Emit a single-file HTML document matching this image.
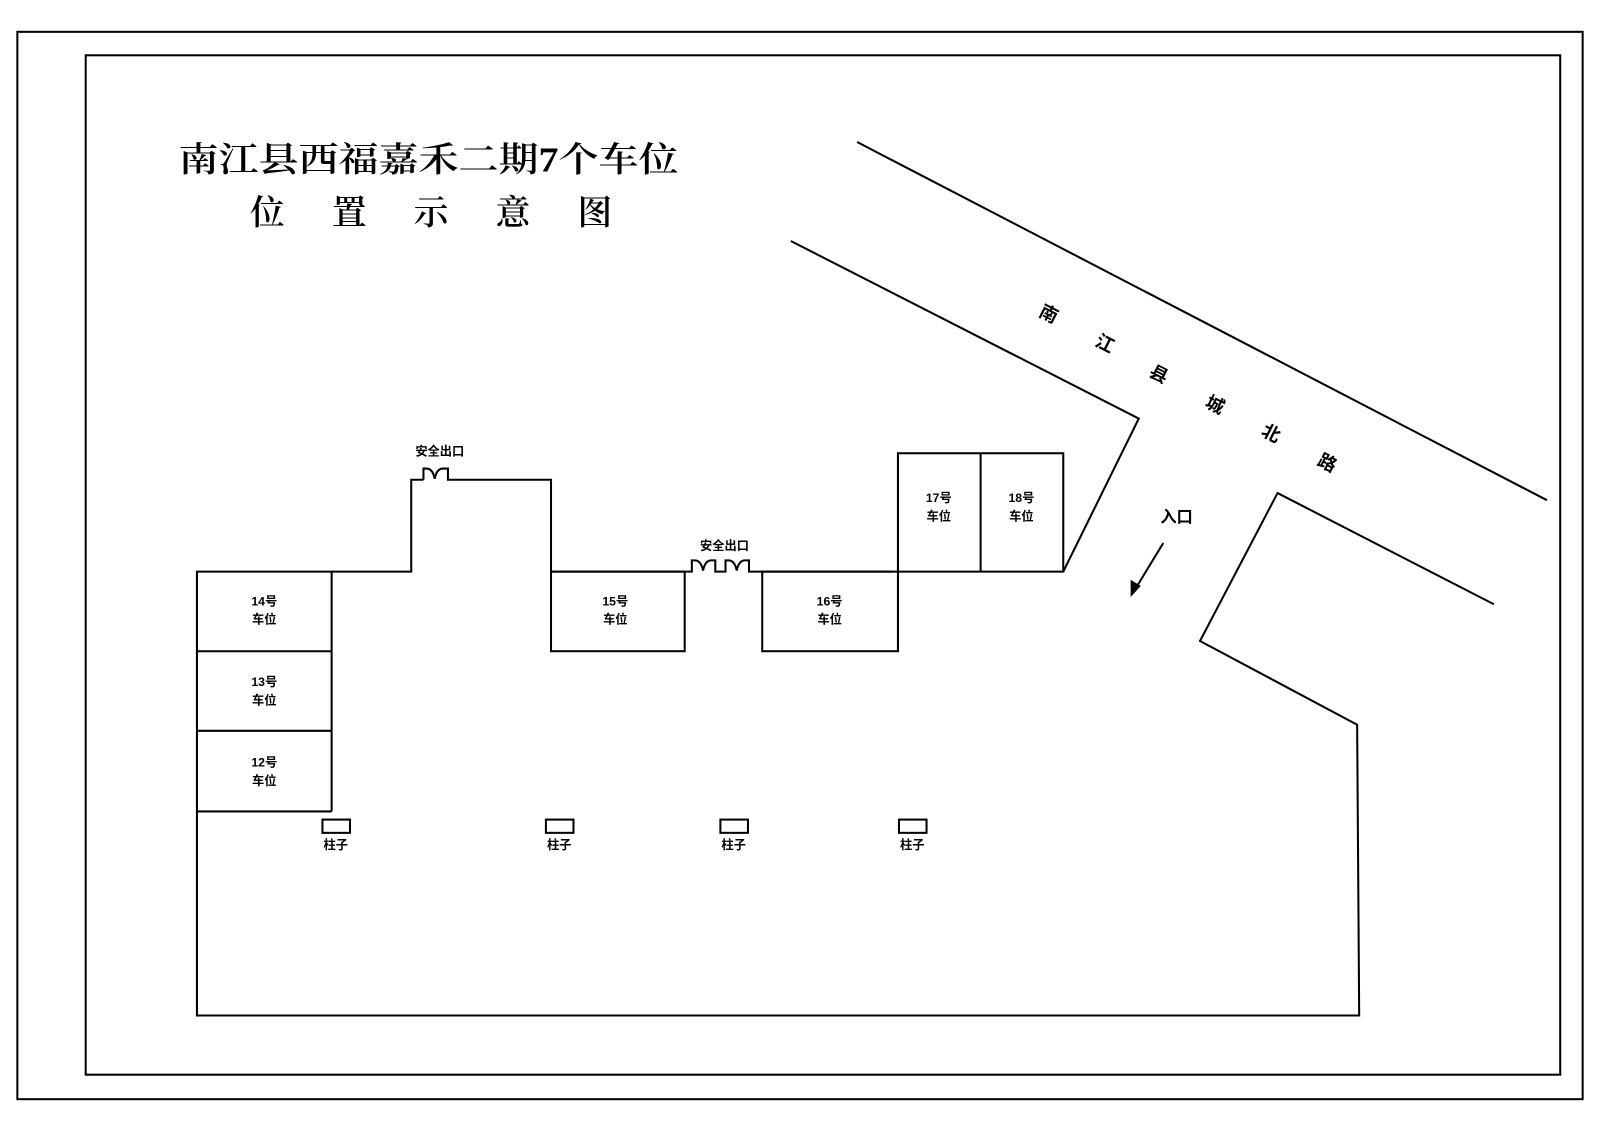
<!DOCTYPE html>
<html><head><meta charset="utf-8"><style>
html,body{margin:0;padding:0;background:#fff;}
svg{display:block}
text{font-family:"Liberation Sans","Noto Sans CJK SC",sans-serif;fill:#000}
.t{font-family:"Liberation Serif","Noto Serif CJK SC",serif;font-weight:600}
.s{font-size:12px;font-weight:bold;text-anchor:middle}
</style></head><body>
<svg width="1600" height="1131" viewBox="0 0 1568 1108" xmlns="http://www.w3.org/2000/svg">
<g fill="none" stroke="#000" stroke-width="2">
<rect x="17" y="31" width="1534" height="1046"/>
<rect x="84" y="54" width="1445" height="999"/>
<line x1="840" y1="139" x2="1516" y2="490"/>
<polyline points="775,236 1116,410 1042,560"/>
<polyline points="1464,592 1252,483 1176,628 1330,710 1332,995 193,995 193,560 403,560 403,470 415,470"/>
<path d="M415,470 v-11 h3 q6,0 8,10 q2,-10 8,-10 h5 v11 h101 v90 h138 v-11 h3 q6,0 8,10 q2,-10 8,-10 h4 v11 h10 v-11 h3 q6,0 8,10 q2,-10 8,-10 h4 v11 h140"/>
<rect x="880" y="444" width="162" height="116"/>
<line x1="961" y1="444" x2="961" y2="560"/>
<rect x="747" y="560" width="133" height="78"/>
<rect x="540" y="560" width="131" height="78"/>
<line x1="325" y1="560" x2="325" y2="795"/>
<line x1="193" y1="638" x2="325" y2="638"/>
<line x1="193" y1="716" x2="325" y2="716"/>
<line x1="193" y1="795" x2="325" y2="795"/>
<rect x="316" y="803" width="27" height="13"/>
<rect x="535" y="803" width="27" height="13"/>
<rect x="706" y="803" width="27" height="13"/>
<rect x="881" y="803" width="27" height="13"/>
<line x1="1140" y1="532" x2="1112" y2="578"/>
</g>
<polygon points="1108,585 1108,568 1118,574" fill="#000"/>
<text class="t" x="175" y="168" font-size="34" textLength="490" lengthAdjust="spacingAndGlyphs">南江县西福嘉禾二期7个车位</text>
<text class="t" x="245" y="220" font-size="34" textLength="355" lengthAdjust="spacing">位 置 示 意 图</text>
<g font-size="18" font-weight="bold" text-anchor="middle">
<text transform="translate(1025,313) rotate(27)">南</text>
<text transform="translate(1080,342) rotate(27)">江</text>
<text transform="translate(1133,372) rotate(27)">县</text>
<text transform="translate(1188,402) rotate(27)">城</text>
<text transform="translate(1243,430) rotate(27)">北</text>
<text transform="translate(1298,459) rotate(27)">路</text>
</g>
<text x="1153" y="512" font-size="16" font-weight="bold" text-anchor="middle">入口</text>
<text class="s" x="431" y="446">安全出口</text>
<text class="s" x="710" y="539">安全出口</text>
<text class="s" x="259" y="593">14号</text><text class="s" x="259" y="611">车位</text>
<text class="s" x="259" y="672">13号</text><text class="s" x="259" y="690">车位</text>
<text class="s" x="259" y="751">12号</text><text class="s" x="259" y="769">车位</text>
<text class="s" x="603" y="593">15号</text><text class="s" x="603" y="611">车位</text>
<text class="s" x="813" y="593">16号</text><text class="s" x="813" y="611">车位</text>
<text class="s" x="920" y="492">17号</text><text class="s" x="920" y="510">车位</text>
<text class="s" x="1001" y="492">18号</text><text class="s" x="1001" y="510">车位</text>
<text class="s" x="329" y="832">柱子</text>
<text class="s" x="548" y="832">柱子</text>
<text class="s" x="719" y="832">柱子</text>
<text class="s" x="894" y="832">柱子</text>
</svg>
</body></html>
